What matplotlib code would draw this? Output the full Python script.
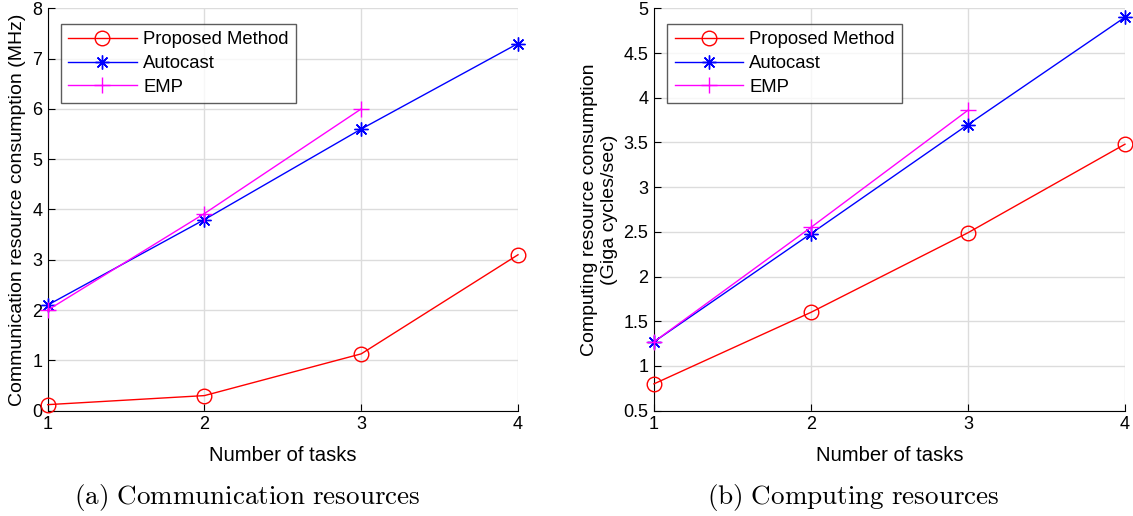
import matplotlib.pyplot as plt
import numpy as np

plt.rcParams['font.family'] = ['Liberation Sans', 'DejaVu Sans']
plt.rcParams['mathtext.fontset'] = 'cm'

tasks = [1, 2, 3, 4]
tasks_emp = [1, 2, 3]

comm_proposed = [0.12, 0.30, 1.13, 3.10]
comm_autocast = [2.10, 3.80, 5.60, 7.30]
comm_emp = [2.00, 3.92, 6.00]

comp_proposed = [0.80, 1.60, 2.49, 3.48]
comp_autocast = [1.27, 2.48, 3.70, 4.90]
comp_emp = [1.27, 2.55, 3.86]

fig = plt.figure(figsize=(11.33, 5.16), dpi=100)
ax1 = fig.add_axes([0.0421, 0.2041, 0.4151, 0.7798])
ax2 = fig.add_axes([0.5772, 0.2041, 0.4157, 0.7798])

asterisk = (8, 2, 0)


def style(ax, prop, auto, emp, ylim, yticks, ylabel):
    ax.plot(tasks, prop, '-o', color='red', lw=1, ms=10.5, mfc='none', mew=1,
            label='Proposed Method', clip_on=False, zorder=3)
    ax.plot(tasks, auto, '-', marker=asterisk, color='blue', lw=1, ms=10, mew=1,
            label='Autocast', clip_on=False, zorder=3)
    ax.plot(tasks_emp, emp, '-+', color='magenta', lw=1, ms=11, mew=1,
            label='EMP', clip_on=False, zorder=3)
    ax.set_xlim(1, 4)
    ax.set_ylim(*ylim)
    ax.set_xticks(tasks)
    ax.set_yticks(yticks)
    ax.grid(True, color='#dcdcdc', lw=1)
    ax.set_axisbelow(True)
    for s in ['top', 'right']:
        ax.spines[s].set_visible(False)
    ax.tick_params(direction='in', labelsize=13, length=5, pad=4)
    ax.set_xlabel('Number of tasks', fontsize=14.6, labelpad=9)
    ax.set_ylabel(ylabel, fontsize=14, labelpad=4)
    leg = ax.legend(loc='upper left', bbox_to_anchor=(0.028, 0.961), fontsize=13.3,
                    fancybox=False, edgecolor='#333333', handlelength=3.7,
                    handletextpad=0.35, borderpad=0.4, labelspacing=0.36,
                    borderaxespad=0)
    leg.get_frame().set_linewidth(1)


style(ax1, comm_proposed, comm_autocast, comm_emp, (0, 8), range(0, 9),
      'Communication resource consumption (MHz)')
style(ax2, comp_proposed, comp_autocast, comp_emp, (0.5, 5), np.arange(0.5, 5.01, 0.5),
      'Computing resource consumption\n(Giga cycles/sec)')
ax2.set_yticklabels(['0.5', '1', '1.5', '2', '2.5', '3', '3.5', '4', '4.5', '5'])

fig.text(0.2185, 0.024, r'$\mathrm{(a)\ Communication\ resources}$', fontsize=19.5,
         ha='center', va='baseline')
fig.text(0.753, 0.024, r'$\mathrm{(b)\ Computing\ resources}$', fontsize=19.5,
         ha='center', va='baseline')

fig.savefig('out.png', dpi=100)
